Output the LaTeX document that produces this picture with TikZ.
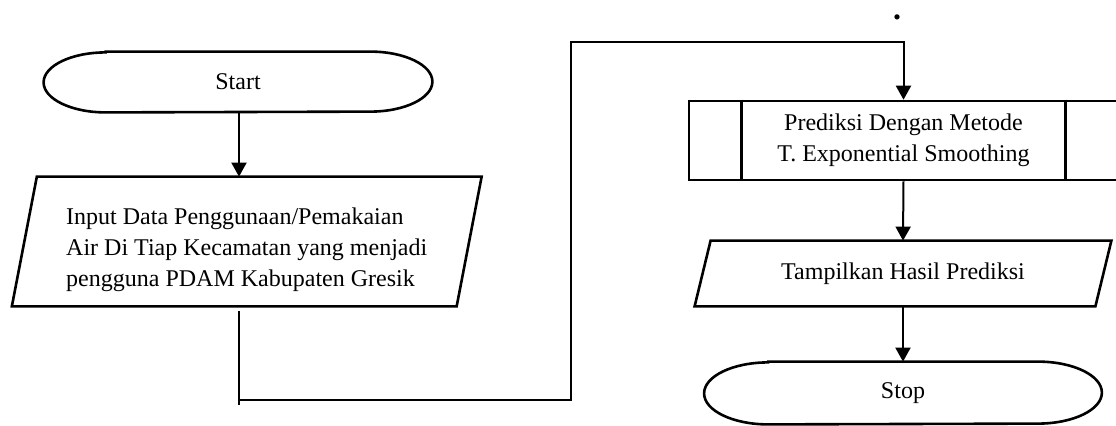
\documentclass[tikz,border=0pt]{standalone}
\usepackage{fontspec}
\setmainfont{Liberation Serif}
\usetikzlibrary{arrows.meta}

\tikzset{
  shapeline/.style={line width=1.3pt},
  flowline/.style={line width=1pt},
  arr/.style={flowline, -{Triangle[width=7.5pt,length=7pt]}},
}

\begin{document}
\begin{tikzpicture}[x=0.5pt,y=-0.5pt,font=\fontsize{12pt}{15.5pt}\selectfont]

\useasboundingbox (0,0) rectangle (1116,425);

% terminator Start
\node[minimum width=194pt,minimum height=30pt,inner sep=0pt] (start) at (238,82) {Start};
\draw[shapeline] ([xshift=31pt]start.north west) -- ([xshift=-31pt]start.north east)
  arc[start angle=90,end angle=-90,x radius=31pt,y radius=15pt]
  -- ([xshift=31pt]start.south west)
  arc[start angle=270,end angle=90,x radius=31pt,y radius=15pt] -- cycle;

% input data
\node[minimum width=222pt,minimum height=64.5pt,inner sep=0pt,align=left] (inp) at (246.75,241.5)
  {\rule{0pt}{17pt}Input Data Penggunaan/Pemakaian\\
   Air Di Tiap Kecamatan yang menjadi\\
   pengguna PDAM Kabupaten Gresik};
\draw[shapeline] ([xshift=6.25pt]inp.north west) -- ([xshift=6.25pt]inp.north east)
  -- ([xshift=-6.25pt]inp.south east) -- ([xshift=-6.25pt]inp.south west) -- cycle;

% predefined process
\node[draw,shapeline,minimum width=214.5pt,minimum height=39.5pt,inner sep=0pt,align=center] (pred) at (903.5,140.5)
  {Prediksi Dengan Metode\\T. Exponential Smoothing};
\draw[shapeline] ([xshift=26.8pt]pred.north west) -- ([xshift=26.8pt]pred.south west);
\draw[shapeline] ([xshift=-26.8pt]pred.north east) -- ([xshift=-26.8pt]pred.south east);

% output
\node[minimum width=200pt,minimum height=32.5pt,inner sep=0pt] (out) at (903,273.5) {Tampilkan Hasil Prediksi};
\draw[shapeline] ([xshift=4pt]out.north west) -- ([xshift=4pt]out.north east)
  -- ([xshift=-4pt]out.south east) -- ([xshift=-4pt]out.south west) -- cycle;

% terminator Stop
\node[minimum width=198.5pt,minimum height=31pt,inner sep=0pt] (stop) at (903,393) {Stop};
\draw[shapeline] ([xshift=32pt]stop.north west) -- ([xshift=-32pt]stop.north east)
  arc[start angle=90,end angle=-90,x radius=32pt,y radius=15.5pt]
  -- ([xshift=32pt]stop.south west)
  arc[start angle=270,end angle=90,x radius=32pt,y radius=15.5pt] -- cycle;

\node[inner sep=0pt,font=\fontsize{16pt}{18pt}\selectfont] (dot) at (897,17) {\textbf{.}};

% connectors
\coordinate (inpEnd) at (239,311);
\coordinate (inpTail) at (239,405);
\coordinate (lowLeft) at (239,400);
\coordinate (lowRight) at (571,400);
\coordinate (highLeft) at (571,42);

\draw[arr] (start.south -| lowLeft) -- (inp.north -| lowLeft);
\draw[flowline] (inpEnd) -- (inpTail);
\draw[arr] (lowLeft) -- (lowRight) -- (highLeft) -| (pred.north);
\draw[arr] (pred.south) -- (out.north);
\draw[arr] (out.south) -- (stop.north);

\end{tikzpicture}
\end{document}
